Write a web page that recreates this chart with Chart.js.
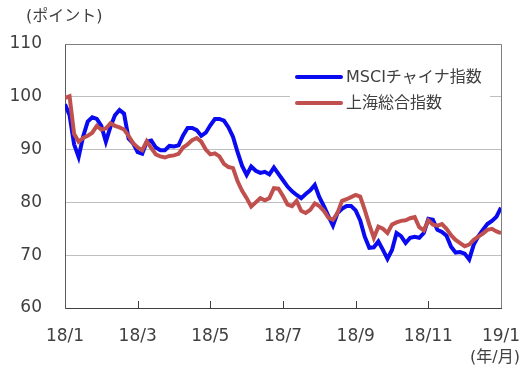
<!DOCTYPE html>
<html>
<head>
<meta charset="utf-8">
<script src="https://cdn.jsdelivr.net/npm/chart.js@4.4.1/dist/chart.umd.min.js"></script>
<style>
  html,body{margin:0;padding:0;background:#fff;}
  #wrap{width:530px;height:378px;position:relative;}
</style>
</head>
<body>
<div id="wrap"><canvas id="c"></canvas></div>
<script>
'use strict';

// ── data (~2 samples per week, 18/1 .. 19/1) ────────────────────────────────
const tickLabels=['18/1','18/3','18/5','18/7','18/9','18/11','19/1'];
const yTicks=[60,70,80,90,100,110];
const seriesNames=['MSCIチャイナ指数','上海総合指数'];

const msci=[
  98.6,96.5,91.0,88.6,92.5,95.3,96.1,95.8,94.5,91.5,94.3,96.5,97.5,96.8,92.1,91.2,
  89.5,89.2,91.5,91.7,90.4,89.9,89.9,90.7,90.6,90.8,92.7,94.1,94.1,93.7,92.6,93.2,
  94.6,95.8,95.8,95.5,94.2,92.4,89.5,86.9,85.2,86.8,86.0,85.6,85.8,85.3,86.6,85.4,
  84.2,83.0,82.1,81.4,80.8,81.6,82.3,83.3,81.0,79.3,77.4,75.6,78.0,78.8,79.3,79.3,
  78.5,76.6,73.5,71.4,71.5,72.6,71.0,69.3,71.0,74.2,73.6,72.3,73.3,73.5,73.3,74.2,
  76.9,76.7,74.8,74.4,73.7,71.6,70.5,70.6,70.3,69.2,72.0,73.6,74.8,75.9,76.5,77.3,
  79.0
];
const shanghai=[
  99.8,100.1,93.0,91.5,92.2,92.6,93.2,94.5,93.8,94.0,95.0,94.5,94.2,93.8,92.6,91.2,
  90.4,89.9,91.6,90.3,89.1,88.7,88.5,88.8,88.9,89.2,90.4,91.0,91.8,92.2,91.5,90.0,
  89.1,89.3,88.7,87.3,86.7,86.5,84.0,82.2,80.8,79.2,80.0,80.8,80.4,80.8,82.7,82.6,
  81.2,79.6,79.3,80.3,78.4,78.0,78.6,79.8,79.3,78.4,77.1,76.7,78.0,80.3,80.6,81.0,
  81.4,81.1,78.6,75.8,73.3,75.4,75.0,74.2,75.8,76.2,76.5,76.6,77.0,77.2,75.3,74.7,
  76.6,75.8,75.6,75.9,75.0,73.8,72.9,72.3,71.7,72.0,72.9,73.5,74.1,74.8,75.0,74.5,
  74.2
];

const BLUE='#0a0af0', RED='#c0504d', TXT='#404040';
const font={family:"'DejaVu Sans','Noto Sans CJK JP',sans-serif",size:17};
const cjk="16px 'DejaVu Sans','Noto Sans CJK JP',sans-serif";
const perTick=(msci.length-1)/(tickLabels.length-1);

const frame={
  id:'frame',
  beforeDatasetsDraw(chart){
    const {ctx}=chart;
    // legend box background (hides the grid line behind it)
    ctx.save();
    ctx.fillStyle='#fff';
    ctx.fillRect(290,60,200,56);
    ctx.restore();
  },
  afterDraw(chart){
    const {ctx,chartArea:a,scales:{x}}=chart;
    ctx.save();
    // top + right border
    ctx.strokeStyle='#7f7f7f'; ctx.lineWidth=1;
    ctx.beginPath();
    ctx.moveTo(a.left,a.top+0.5); ctx.lineTo(a.right+0.5,a.top+0.5); ctx.lineTo(a.right+0.5,a.bottom);
    ctx.stroke();
    // inner tick marks on x axis
    ctx.strokeStyle='#404040';
    ctx.beginPath();
    for(let i=1;i<tickLabels.length-1;i++){
      const px=Math.round(x.getPixelForValue(i*perTick))+0.5;
      ctx.moveTo(px,a.bottom); ctx.lineTo(px,a.bottom-7);
    }
    ctx.stroke();
    // unit labels
    ctx.fillStyle=TXT; ctx.font=cjk; ctx.textBaseline='middle';
    ctx.textAlign='left';
    ctx.fillText('(ポイント)',26,17);
    ctx.textAlign='right';
    ctx.fillText('(年/月)',520,358);
    // legend
    ctx.textAlign='left';
    const rows=[[BLUE,seriesNames[0],77],[RED,seriesNames[1],103]];
    rows.forEach(([col,name,yy])=>{
      ctx.strokeStyle=col; ctx.lineWidth=4; ctx.lineCap='round';
      ctx.beginPath(); ctx.moveTo(297,yy); ctx.lineTo(341,yy); ctx.stroke();
      ctx.fillText(name,346,yy+1);
    });
    ctx.restore();
  }
};

const pts=arr=>arr.map((v,i)=>({x:i,y:v}));

new Chart(document.getElementById('c'),{
  type:'line',
  data:{datasets:[
    {label:seriesNames[0],data:pts(msci),borderColor:BLUE,borderWidth:4,pointRadius:0,tension:0,order:2},
    {label:seriesNames[1],data:pts(shanghai),borderColor:RED,borderWidth:4,pointRadius:0,tension:0,order:1}
  ]},
  options:{
    responsive:true,maintainAspectRatio:false,animation:false,
    layout:{padding:{top:44,right:29,left:0,bottom:0}},
    plugins:{legend:{display:false},tooltip:{enabled:false}},
    scales:{
      x:{type:'linear',min:0,max:msci.length-1,
        grid:{display:false,drawTicks:false},
        border:{display:true,color:'#404040',width:1},
        ticks:{stepSize:perTick,autoSkip:false,maxRotation:0,color:TXT,font,padding:18,
          callback:v=>tickLabels[Math.round(v/perTick)]},
        afterFit:s=>{s.height=70;s.paddingLeft=20;s.paddingRight=20;}},
      y:{min:yTicks[0],max:yTicks[yTicks.length-1],
        afterBuildTicks:s=>{s.ticks=yTicks.map(v=>({value:v}));},
        grid:{drawTicks:false,color:ctx=>(ctx.tick&&(ctx.tick.value===60||ctx.tick.value===110))?'rgba(0,0,0,0)':'#bfbfbf'},
        border:{display:true,color:'#595959',width:1},
        ticks:{color:TXT,font,padding:23},
        afterFit:s=>{s.width=65;}}
    }
  },
  plugins:[frame]
});
</script>
</body>
</html>
